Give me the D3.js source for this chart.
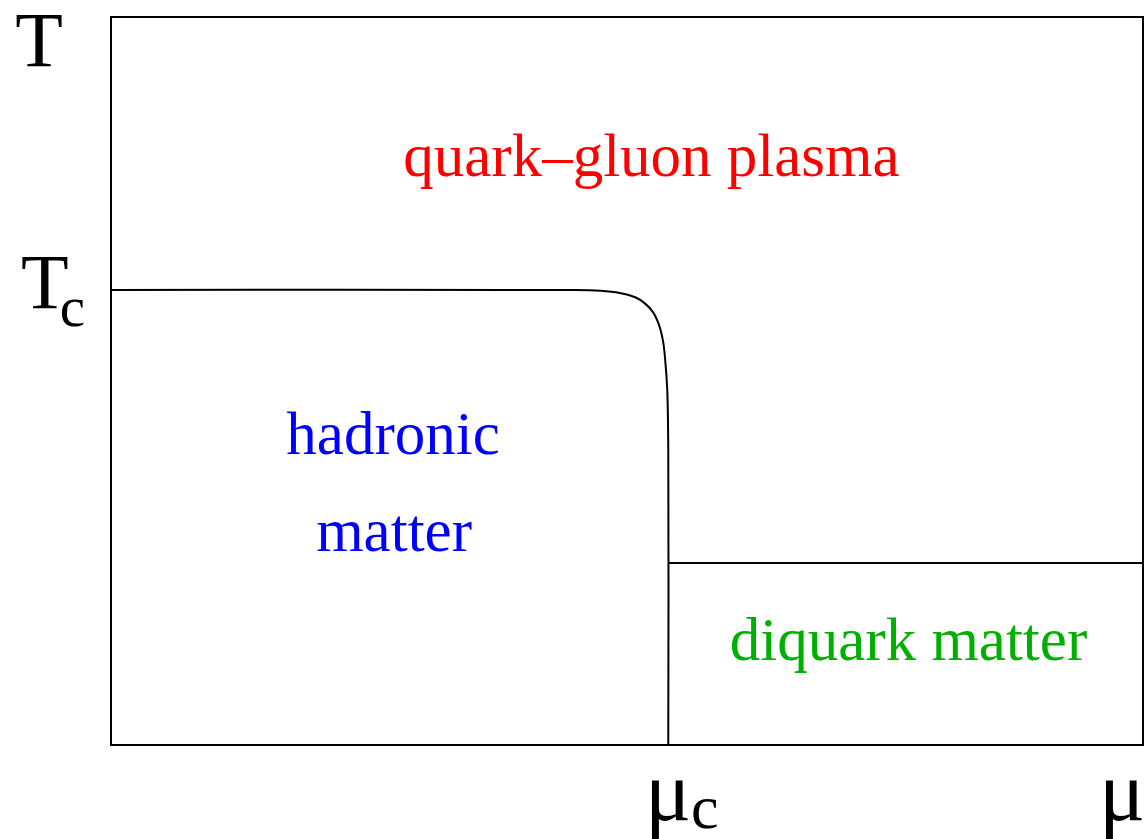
<!DOCTYPE html>
<html><head><meta charset="utf-8">
<script src="https://cdn.jsdelivr.net/npm/d3@7"></script>
<style>body{margin:0;background:#fff}svg{display:block}</style>
</head><body>
<script>
// phase boundary (mu, T) in normalized units
const boundaryMu = [0, 0.435, 0.474, 0.493, 0.508, 0.517, 0.525, 0.531, 0.535, 0.537, 0.539, 0.540, 0.540];
const boundaryT  = [0.625, 0.625, 0.624, 0.621, 0.615, 0.607, 0.595, 0.577, 0.554, 0.529, 0.488, 0.405, 0];
const diquarkMu = [0.540, 1];
const diquarkT = [0.25, 0.25];
const regionNames = ["quark\u2013gluon plasma", "hadronic", "matter", "diquark matter"];
const regionColors = ["#ff0000", "#0000ff", "#0000ff", "#00b000"];
const regionMu = [0.5237, 0.2733, 0.2743, 0.7728];
const regionT = [0.7816, 0.3997, 0.2665, 0.1168];
const FONT='"Liberation Serif", "Times New Roman", Times, serif';
const W=1147,H=839;
const x=d3.scaleLinear().domain([0,1]).range([111,1143]);
const y=d3.scaleLinear().domain([0,1]).range([745,17]);
const svg=d3.select("body").append("svg").attr("width",W).attr("height",H).attr("font-family",FONT);
svg.append("rect").attr("x",x(0)).attr("y",y(1)).attr("width",x(1)-x(0)).attr("height",y(0)-y(1))
  .attr("fill","none").attr("stroke","#000").attr("stroke-width",2);
const line=d3.line().x(d=>x(d[0])).y(d=>y(d[1])).curve(d3.curveCatmullRom);
svg.append("path").attr("d",line(boundaryMu.map((m,i)=>[m,boundaryT[i]])))
  .attr("fill","none").attr("stroke","#000").attr("stroke-width",2);
svg.append("path").attr("d",d3.line().x(d=>x(d[0])).y(d=>y(d[1]))(diquarkMu.map((m,i)=>[m,diquarkT[i]])))
  .attr("fill","none").attr("stroke","#000").attr("stroke-width",2);
const fs=61;
regionNames.forEach((t,i)=>{
  svg.append("text").attr("x",x(regionMu[i])).attr("y",y(regionT[i]))
    .attr("text-anchor","middle").attr("font-size",fs).attr("fill",regionColors[i]).text(t);
});
// axis labels
const big=78, sub=57, mu=86, musub=62;
svg.append("text").attr("x",39).attr("y",66).attr("font-size",big).attr("text-anchor","middle").text("T");
const tc=svg.append("text").attr("x",21).attr("y",308).attr("font-size",big);
tc.append("tspan").text("T");
tc.append("tspan").attr("font-size",sub).attr("dy",18).attr("dx",-9).text("c");
const mc=svg.append("text").attr("x",645).attr("y",820).attr("font-size",mu);
mc.append("tspan").text("\u03bc");
mc.append("tspan").attr("font-size",musub).attr("dy",8).attr("dx",0).text("c");
svg.append("text").attr("x",1099).attr("y",820).attr("font-size",mu).text("\u03bc");
</script>
</body></html>
